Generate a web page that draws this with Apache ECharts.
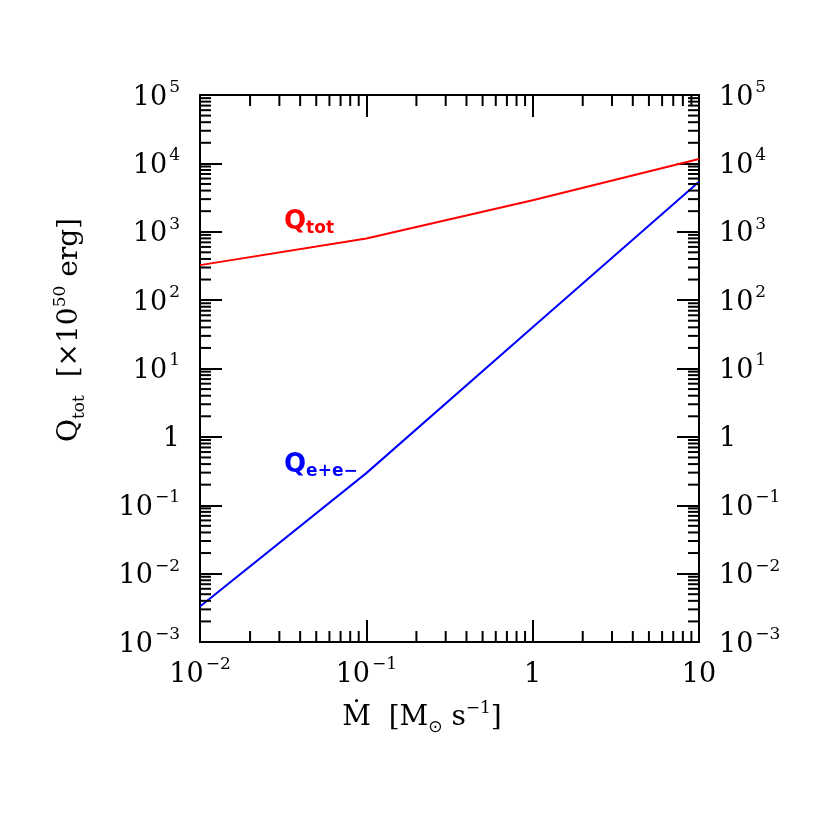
<!DOCTYPE html>
<html style="height: 100%">
<head>
    <meta charset="utf-8">
    <title>Q_tot vs Mdot</title>
</head>
<body style="height: 100%; margin: 0; background: #fff">
<div id="container" style="width: 817px; height: 817px"></div>
<script type="text/javascript" src="https://cdn.jsdelivr.net/npm/echarts@6/dist/echarts.min.js"></script>
<script type="text/javascript">
    // data
    var mdot = [0.01, 0.1, 1, 10];
    var qTot = [325, 795, 2880, 11600];
    var qEE = [0.0033, 0.295, 40, 5400];

    var xMin = 0.01, xMax = 10;
    var yMin = 1e-3, yMax = 1e5;

    var serif = 'DejaVu Serif';
    var sans = 'DejaVu Sans';

    // minor tick positions (2..9 x 10^n)
    var xMinor = [], yMinor = [];
    for (var n = -2; n <= 0; n++) for (var k = 2; k <= 9; k++) xMinor.push([k * Math.pow(10, n), yMin]);
    for (var m = -3; m <= 4; m++) for (var j = 2; j <= 9; j++) yMinor.push([xMin, j * Math.pow(10, m)]);

    function pair(a, b) {
        return a.map(function (v, i) { return [v, b[i]]; });
    }

    function supLabel(exp) {
        return '{b|10}{s|' + String(exp).replace('-', '\u2212') + '}';
    }
    function yFmt(v) {
        var e = Math.round(Math.log10(v));
        return e === 0 ? '{b|1}' : supLabel(e);
    }
    function xFmt(v) {
        var e = Math.round(Math.log10(v));
        if (e === 0) return '{b|1}';
        if (e === 1) return '{b|10}';
        return supLabel(e);
    }

    var rich = {
        b: {fontFamily: serif, fontSize: 27, color: '#000', lineHeight: 32, verticalAlign: 'bottom'},
        s: {fontFamily: serif, fontSize: 17, color: '#000', verticalAlign: 'top', padding: [0, 0, 0, 2]}
    };

    var line = {show: true, lineStyle: {color: '#000', width: 2}};
    var bigTick = {show: true, inside: true, length: 22, lineStyle: {color: '#000', width: 2}};

    function xAxis(pos, showLabel) {
        return {
            type: 'log', logBase: 10, min: xMin, max: xMax, interval: 1, position: pos,
            axisLine: line, axisTick: bigTick, splitLine: {show: false},
            axisLabel: {show: showLabel, margin: 14, formatter: xFmt, rich: rich}
        };
    }
    function yAxis(pos) {
        return {
            type: 'log', logBase: 10, min: yMin, max: yMax, interval: 1, position: pos,
            axisLine: line, axisTick: bigTick, splitLine: {show: false},
            axisLabel: {show: true, margin: 20, formatter: yFmt, rich: rich}
        };
    }

    function minorTick(vertical) {
        return function (params, api) {
            var len = 11;
            var style = {stroke: '#000', lineWidth: 2};
            if (vertical) {
                var b = api.coord([api.value(0), yMin]);
                var t = api.coord([api.value(0), yMax]);
                return {type: 'group', children: [
                    {type: 'line', shape: {x1: b[0], y1: b[1], x2: b[0], y2: b[1] - len}, style: style},
                    {type: 'line', shape: {x1: t[0], y1: t[1], x2: t[0], y2: t[1] + len}, style: style}
                ]};
            }
            var l = api.coord([xMin, api.value(1)]);
            var r = api.coord([xMax, api.value(1)]);
            return {type: 'group', children: [
                {type: 'line', shape: {x1: l[0], y1: l[1], x2: l[0] + len, y2: l[1]}, style: style},
                {type: 'line', shape: {x1: r[0], y1: r[1], x2: r[0] - len, y2: r[1]}, style: style}
            ]};
        };
    }

    var titleRich = {
        q: {fontFamily: serif, fontSize: 28, fill: '#000', lineHeight: 36, verticalAlign: 'middle'},
        sub: {fontFamily: serif, fontSize: 17, fill: '#000', verticalAlign: 'bottom'},
        subSun: {fontFamily: sans, fontSize: 17, fill: '#000', verticalAlign: 'bottom'},
        sup: {fontFamily: serif, fontSize: 17, fill: '#000', verticalAlign: 'top'}
    };

    function curveLabel(colour) {
        return {
            q: {fontFamily: sans, fontWeight: 'bold', fontSize: 26, fill: colour, lineHeight: 30, verticalAlign: 'middle'},
            sub: {fontFamily: sans, fontWeight: 'bold', fontSize: 17, fill: colour, verticalAlign: 'bottom'}
        };
    }

    var myChart = echarts.init(document.getElementById('container'), null, {renderer: 'canvas'});

    var option = {
        backgroundColor: '#fff',
        animation: false,
        grid: {left: 200, right: 118, top: 95, bottom: 175, containLabel: false},
        xAxis: [xAxis('bottom', true), xAxis('top', false)],
        yAxis: [yAxis('left'), yAxis('right')],
        graphic: [
            {
                type: 'text', x: 70, y: 330, rotation: Math.PI / 2,
                style: {
                    x: 0, y: 0, align: 'center', verticalAlign: 'middle',
                    text: '{q|Q}{sub|tot}{q|  [\u00d710}{sup|50}{q| erg]}',
                    rich: titleRich
                }
            },
            {
                type: 'text', x: 422, y: 718,
                style: {
                    x: 0, y: 0, align: 'center', verticalAlign: 'middle',
                    text: '{q|\u1e40  [M}{subSun|\u2299}{q| s}{sup|\u22121}{q|]}',
                    rich: titleRich
                }
            },
            {
                type: 'text', x: 284, y: 222,
                style: {
                    x: 0, y: 0, align: 'left', verticalAlign: 'middle', fill: '#ff0000',
                    text: '{q|Q}{sub|tot}',
                    rich: curveLabel('#ff0000')
                }
            },
            {
                type: 'text', x: 284, y: 465,
                style: {
                    x: 0, y: 0, align: 'left', verticalAlign: 'middle', fill: '#0000ff',
                    text: '{q|Q}{sub|e+e\u2212}',
                    rich: curveLabel('#0000ff')
                }
            }
        ],
        series: [
            {
                name: 'Q_tot', type: 'line', data: pair(mdot, qTot), showSymbol: false,
                lineStyle: {color: '#ff0000', width: 2}, z: 3
            },
            {
                name: 'Q_e+e-', type: 'line', data: pair(mdot, qEE), showSymbol: false,
                lineStyle: {color: '#0000ff', width: 2}, z: 3
            },
            {type: 'custom', renderItem: minorTick(true), data: xMinor, silent: true, clip: false, z: 4},
            {type: 'custom', renderItem: minorTick(false), data: yMinor, silent: true, clip: false, z: 4}
        ]
    };

    myChart.setOption(option, true);
</script>
</body>
</html>
